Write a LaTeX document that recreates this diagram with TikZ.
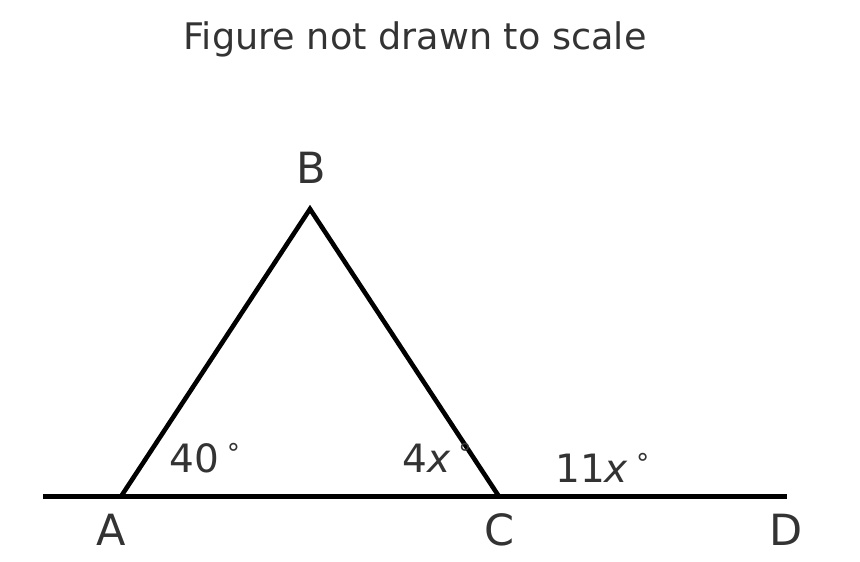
\documentclass[tikz,border=0pt]{standalone}
\usepackage{fontspec}
\setmainfont{DejaVu Sans}
\definecolor{txt}{HTML}{333333}
\tikzset{
  seg/.style={line width=4.6pt, black, line cap=butt, line join=miter},
  lbl/.style={text=txt, font=\fontsize{43}{43}\selectfont, inner sep=0pt, anchor=base},
  ang/.style={text=txt, font=\fontsize{39}{39}\selectfont, inner sep=0pt, anchor=base west},
  ttl/.style={text=txt, font=\fontsize{36.6}{36.6}\selectfont, inner sep=0pt, anchor=base},
}
\newcommand{\degr}{\,\raisebox{0.42em}{\fontsize{26}{26}\selectfont ∘}}
\begin{document}
\begin{tikzpicture}[x=1pt,y=-1pt]
\useasboundingbox (0,0) rectangle (860,562);
\coordinate (L) at (43,496.5);
\coordinate (R) at (787,496.5);
\coordinate (A) at (121,496.5);
\coordinate (B) at (310,209);
\coordinate (C) at (499,496.5);
\draw[seg] (L) -- (R);
\draw[seg] (A) -- (B) -- (C);
\node[ttl] (title) at (415,49) {Figure not drawn to scale};
\node[lbl] (lA) at (111,545) {A};
\node[lbl] (lB) at (311.5,183) {B};
\node[lbl] (lC) at (500,545) {C};
\node[lbl] (lD) at (786,545) {D};
\node[ang] (a40) at (169,472) {40\degr};
\node[ang] (a4x) at (402,472) {4\textit{x}\degr};
\node[ang] (a11) at (555,482) {11\textit{x}\degr};
\end{tikzpicture}
\end{document}
